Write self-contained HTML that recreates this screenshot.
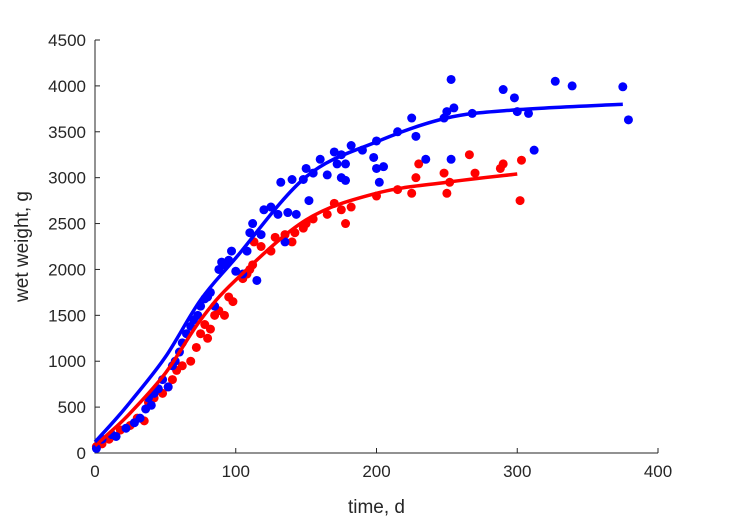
<!DOCTYPE html>
<html><head><meta charset="utf-8"><style>
body{margin:0;background:#fff}
svg{display:block;font-family:"Liberation Sans",sans-serif}
</style></head><body>
<svg id="chart" width="729" height="521" viewBox="0 0 729 521"></svg>
<script>
const blueT=[1,5,12,15,22,28,32,36,38,40,42,45,48,52,55,57,60,62,65,68,70,73,75,78,80,82,85,88,90,92,95,97,100,105,108,110,112,115,118,120,125,130,132,135,137,140,143,148,150,152,155,160,165,170,172,175,175,178,178,182,190,198,200,200,202,205,215,225,228,235,248,250,253,253,255,268,290,298,300,308,312,327,339,375,379];
const blueW=[50,150,200,180,270,330,380,480,600,520,650,700,800,720,950,1000,1100,1200,1300,1380,1450,1500,1600,1680,1700,1750,1600,2000,2080,2050,2100,2200,1980,1950,2200,2400,2500,1880,2380,2650,2680,2600,2950,2300,2620,2980,2600,2980,3100,2750,3050,3200,3030,3280,3150,3000,3250,2970,3150,3350,3300,3220,3100,3400,2950,3120,3500,3650,3450,3200,3650,3720,4070,3200,3760,3700,3960,3870,3720,3700,3300,4050,4000,3990,3630];
const redT=[1,5,10,18,25,30,35,38,42,48,52,55,58,62,68,72,75,78,80,82,85,88,92,95,98,105,108,110,112,113,118,125,128,135,140,142,148,150,155,165,170,175,178,182,200,215,225,228,230,248,250,252,266,270,288,290,302,303];
const redW=[70,100,150,250,300,380,350,550,600,650,720,800,900,950,1000,1150,1300,1400,1250,1350,1500,1550,1500,1700,1650,1900,1950,2000,2050,2300,2250,2200,2350,2380,2300,2400,2450,2500,2550,2600,2720,2650,2500,2680,2800,2870,2830,3000,3150,3050,2830,2950,3250,3050,3100,3150,2750,3190];
const blueFitT=[0,12.5,25,50,75,100,150,200,250,300,375];
const blueFitW=[120,330,555,1046,1667,2125,3010,3390,3650,3740,3800];
const redFitT=[0,12.5,25,50,75,100,150,200,250,300];
const redFitW=[80,250,435,870,1450,1885,2540,2830,2950,3040];
const xTicks=[0,100,200,300,400];
const yTicks=[0,500,1000,1500,2000,2500,3000,3500,4000,4500];

const X0=95,X1=658,Y0=453,Y1=40;
const sx=t=>X0+(t-0)/400*(X1-X0);
const sy=w=>Y0-(w-0)/4500*(Y0-Y1);
const NS="http://www.w3.org/2000/svg";
const svg=document.getElementById('chart');
function mk(tag,attrs,parent){const e=document.createElementNS(NS,tag);for(const k in attrs)e.setAttribute(k,attrs[k]);(parent||svg).appendChild(e);return e;}

// axes
const ax=mk('path',{d:`M${X0},${Y1}V${Y0}H${X1}`,stroke:'#262626',fill:'none','stroke-width':1});


xTicks.forEach(v=>{
  const l=mk('line',{x1:sx(v),x2:sx(v),y1:Y0,y2:Y0-5,stroke:'#262626'});
  
  
  const t=mk('text',{x:sx(v),y:Y0+24,'text-anchor':'middle','font-size':17,fill:'#262626'});
  t.textContent=v;
  
  
});
yTicks.forEach(v=>{
  const l=mk('line',{x1:X0,x2:X0+5,y1:sy(v),y2:sy(v),stroke:'#262626'});
  
  
  const t=mk('text',{x:X0-9,y:sy(v)+6,'text-anchor':'end','font-size':17,fill:'#262626'});
  t.textContent=v;
  
  
});
const xl=mk('text',{x:(X0+X1)/2,y:513,'text-anchor':'middle','font-size':19,fill:'#262626'});
xl.textContent='time, d';


const yl=mk('text',{x:0,y:0,'text-anchor':'middle','font-size':19,fill:'#262626',transform:`translate(28,${(Y0+Y1)/2}) rotate(-90)`});
yl.textContent='wet weight, g';



function pts(T,W,color,name){
  T.forEach((t,i)=>{
    const c=mk('circle',{cx:sx(t),cy:sy(W[i]),r:4.5,fill:color});
    
    
  });
}
function curve(T,W,color,name){
  const P=T.map((t,i)=>[sx(t),sy(W[i])]);
  let d=`M${P[0][0]},${P[0][1]}`;
  for(let i=0;i<P.length-1;i++){
    const p0=P[Math.max(i-1,0)],p1=P[i],p2=P[i+1],p3=P[Math.min(i+2,P.length-1)];
    const c1=[p1[0]+(p2[0]-p0[0])/6,p1[1]+(p2[1]-p0[1])/6];
    const c2=[p2[0]-(p3[0]-p1[0])/6,p2[1]-(p3[1]-p1[1])/6];
    d+=`C${c1[0]},${c1[1]} ${c2[0]},${c2[1]} ${p2[0]},${p2[1]}`;
  }
  const p=mk('path',{d,stroke:color,'stroke-width':3.5,fill:'none'});
  
  
}
pts(redT,redW,'#ff0000','red-point');
pts(blueT,blueW,'#0000ff','blue-point');
curve(redFitT,redFitW,'#ff0000','red-fit-line');
curve(blueFitT,blueFitW,'#0000ff','blue-fit-line');
</script>
</body></html>
